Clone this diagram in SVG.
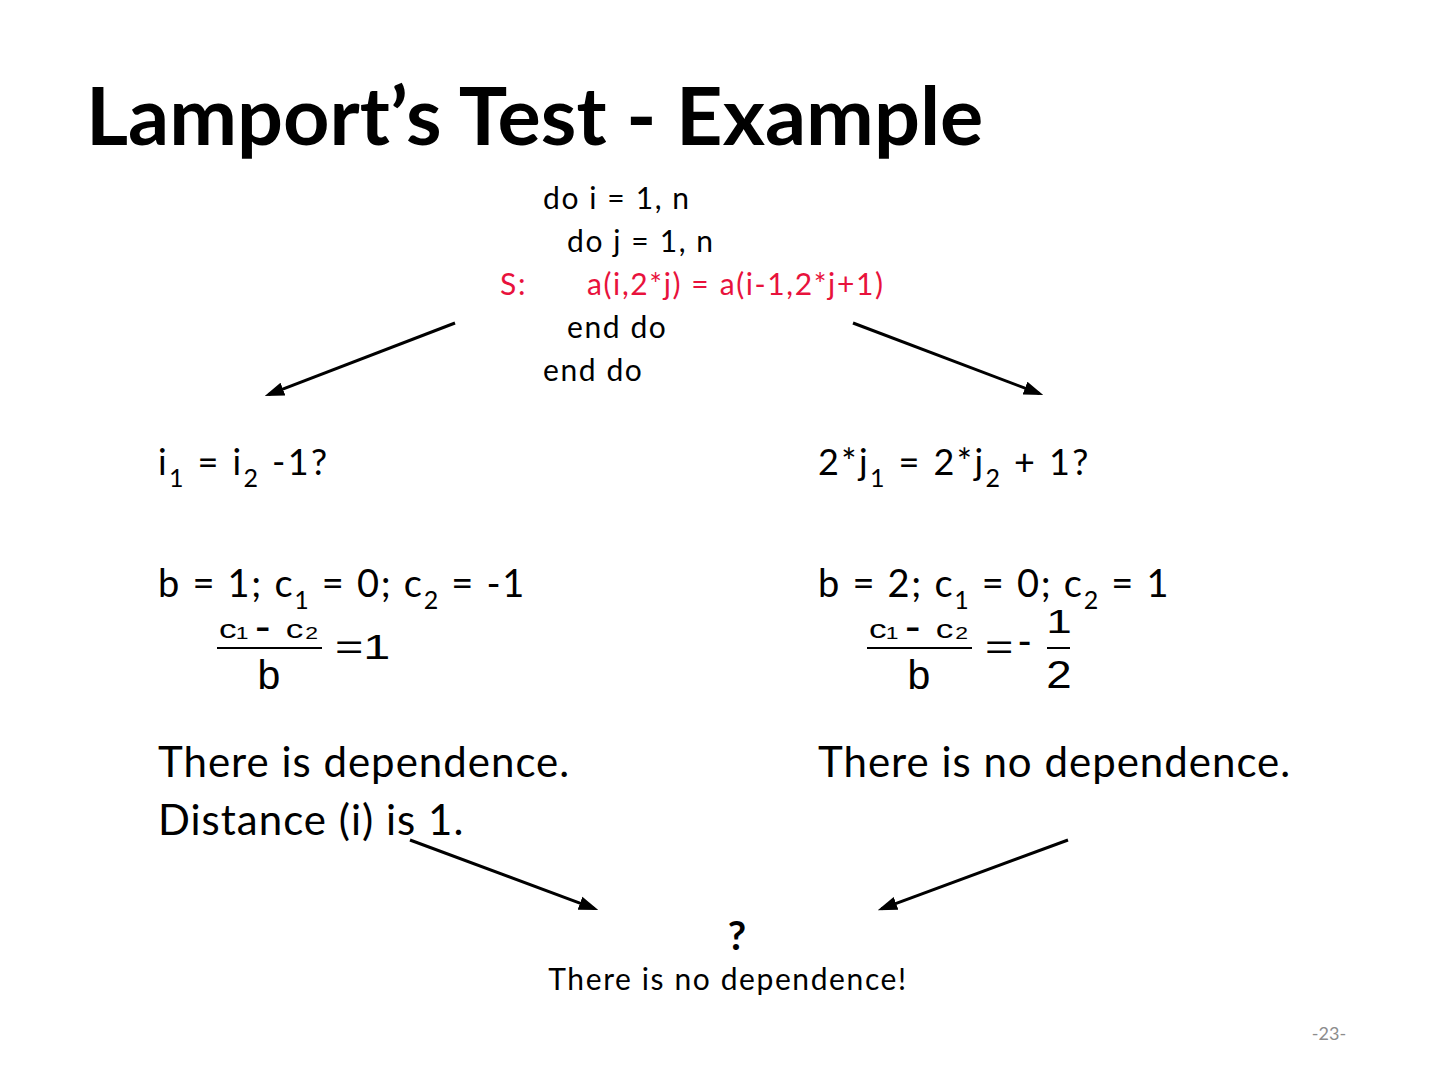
<svg xmlns="http://www.w3.org/2000/svg" width="1440" height="1080" viewBox="0 0 1440 1080">
<style>
.t{font-family:Lato,"Liberation Sans",sans-serif;fill:#000}
.title{font-size:81px;font-weight:bold}
.l1{font-size:36px;letter-spacing:2.4px}
.l2{font-size:38px;letter-spacing:1.7px}
.txt{font-size:42px;letter-spacing:1px}
.code{font-size:30px;letter-spacing:1.6px}
.red{fill:#e8123c}
.sub{font-size:25px}
.m{font-family:"Liberation Sans",Arial,sans-serif;fill:#000}
.conn line{stroke:#000;stroke-width:3}
.fl{stroke:#000;stroke-width:2}
</style>
<defs>
<marker id="ah" viewBox="0 0 10 10" refX="8" refY="5" markerWidth="6.5" markerHeight="6.5" orient="auto" markerUnits="strokeWidth">
<path d="M0,1.5 L10,5 L0,8.5 z" fill="#000"/>
</marker>
</defs>
<rect width="1440" height="1080" fill="#fff"/>
<g id="title"><text class="t title" x="86" y="145">Lamport’s Test - Example</text></g>
<g id="code">
<text class="t code" x="543" y="209">do i = 1, n</text>
<text class="t code" x="567" y="252">do j = 1, n</text>
<text class="t code red" x="500" y="295">S:</text>
<text class="t code red" x="587" y="295">a(i,2*j) = a(i-1,2*j+1)</text>
<text class="t code" x="567" y="338">end do</text>
<text class="t code" x="543" y="381">end do</text>
</g>
<g id="left">
<text class="t l1" x="158" y="475">i<tspan class="sub" dy="12">1</tspan><tspan dy="-12"> = i</tspan><tspan class="sub" dy="12">2</tspan><tspan dy="-12"> -1?</tspan></text>
<text class="t l2" x="158" y="597">b = 1; c<tspan class="sub" dy="12">1</tspan><tspan dy="-12"> = 0; c</tspan><tspan class="sub" dy="12">2</tspan><tspan dy="-12"> = -1</tspan></text>
<g id="frac-left">
<g class="m" transform="translate(219,638) scale(1.35,1)">
<text x="0" y="0" font-size="26">c</text>
<text x="12.4" y="1" font-size="17">1</text>
<text x="49.5" y="0" font-size="26">c</text>
<text x="63.9" y="1" font-size="17">2</text>
</g>
<g class="m" transform="translate(255,641.3) scale(1.55,1.5)"><text x="0" y="0" font-size="30">-</text></g>
<line class="fl" x1="217" y1="648" x2="322" y2="648"/>
<text class="m" x="257.4" y="689" font-size="41">b</text>
<g class="m" transform="translate(335,659) scale(1.35,1)"><text x="0" y="0" font-size="36">=1</text></g>
</g>
<text class="t txt" x="158" y="777">There is dependence.</text>
<text class="t txt" x="158" y="835">Distance (i) is 1.</text>
</g>
<g id="right">
<text class="t l1" x="818" y="475">2*j<tspan class="sub" dy="12">1</tspan><tspan dy="-12"> = 2*j</tspan><tspan class="sub" dy="12">2</tspan><tspan dy="-12"> + 1?</tspan></text>
<text class="t l2" x="818" y="597">b = 2; c<tspan class="sub" dy="12">1</tspan><tspan dy="-12"> = 0; c</tspan><tspan class="sub" dy="12">2</tspan><tspan dy="-12"> = 1</tspan></text>
<g id="frac-right">
<g class="m" transform="translate(869,638) scale(1.35,1)">
<text x="0" y="0" font-size="26">c</text>
<text x="12.4" y="1" font-size="17">1</text>
<text x="49.5" y="0" font-size="26">c</text>
<text x="63.9" y="1" font-size="17">2</text>
</g>
<g class="m" transform="translate(905,641.3) scale(1.55,1.5)"><text x="0" y="0" font-size="30">-</text></g>
<line class="fl" x1="867" y1="648" x2="972" y2="648"/>
<text class="m" x="907.4" y="689" font-size="41">b</text>
<g class="m" transform="translate(985,659) scale(1.35,1)"><text x="0" y="0" font-size="36">=</text></g>
<text class="m" x="1018" y="654" font-size="40">-</text>
<g class="m" transform="translate(1059,633) scale(1.35,1)"><text x="0" y="0" font-size="34" text-anchor="middle">1</text></g>
<line class="fl" x1="1047" y1="648" x2="1070" y2="648"/>
<g class="m" transform="translate(1059,688) scale(1.2,1)"><text x="0" y="0" font-size="38" text-anchor="middle">2</text></g>
</g>
<text class="t txt" x="818" y="777">There is no dependence.</text>
</g>
<g id="result">
<text class="t" x="737" y="950" text-anchor="middle" font-size="40" font-weight="bold">?</text>
<text class="t code" x="728" y="990" text-anchor="middle">There is no dependence!</text>
</g>
<g id="page"><text x="1329" y="1040" text-anchor="middle" font-family="Lato,'Liberation Sans',sans-serif" font-size="18" fill="#8c8c8c">-23-</text></g>
<g class="conn" id="connectors">
<line x1="455" y1="323" x2="268.4" y2="394.7" marker-end="url(#ah)"/>
<line x1="853" y1="323" x2="1039.6" y2="393.7" marker-end="url(#ah)"/>
<line x1="410" y1="840" x2="594.6" y2="908.7" marker-end="url(#ah)"/>
<line x1="1068" y1="840" x2="881.4" y2="908.8" marker-end="url(#ah)"/>
</g>
</svg>
